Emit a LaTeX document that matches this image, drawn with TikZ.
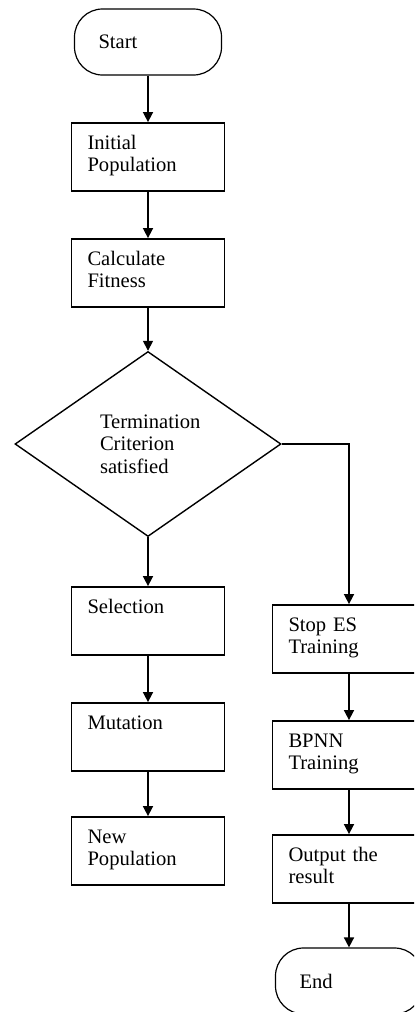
\documentclass[tikz,border=0pt]{standalone}
\usepackage{fontspec}
\setmainfont{Liberation Serif}
\usetikzlibrary{shapes.geometric,arrows.meta}

\def\leftx{148}
\def\rightx{349}

\begin{document}
\begin{tikzpicture}[x=0.5pt,y=-0.5pt,
        font=\fontsize{10.3}{11.3}\selectfont,
        procbox/.style={draw,line width=0.9pt,rectangle,inner xsep=8pt,inner ysep=3pt,
            text width=60.5pt,align=left,text height=10pt,text depth=18pt},
        termbox/.style={draw,line width=0.6pt,rounded corners=14pt,minimum width=73.5pt,
            minimum height=33pt,inner xsep=12pt,text width=49.5pt,align=left},
        decision/.style={draw,line width=0.7pt,diamond,minimum width=133pt,
            minimum height=92.5pt,inner sep=0pt,text width=48pt,align=left},
        flowarrow/.style={-{Triangle[length=5pt,width=5pt]},line width=0.8pt}]
        % frame of the picture
        \useasboundingbox (0,0) rectangle (414,1012);
        \clip (0,0) rectangle (414,1012);
        % main column
        \node[termbox] (start) at (\leftx,42) {Start};
        \node[procbox] (init) at (\leftx,157) {Initial\\Population};
        \node[procbox] (calc) at (\leftx,273) {Calculate\\Fitness};
        \node[decision] (crit) at (\leftx,444) {Termination\\Criterion\\satisfied};
        \node[procbox] (sel) at (\leftx,621) {Selection};
        \node[procbox] (mut) at (\leftx,737) {Mutation};
        \node[procbox] (newpop) at (\leftx,851) {New\\Population};
        % right column
        \node[procbox] (stop) at (\rightx,639) {Stop ES\\Training};
        \node[procbox] (bpnn) at (\rightx,755) {BPNN\\Training};
        \node[procbox] (out) at (\rightx,869) {Output the\\result};
        \node[termbox] (end) at (\rightx,981) {End};
        % arrows
        \draw[flowarrow] (start) -- (init);
        \draw[flowarrow] (init) -- (calc);
        \draw[flowarrow] (calc) -- (crit);
        \draw[flowarrow] (crit) -- (sel);
        \draw[flowarrow] (sel) -- (mut);
        \draw[flowarrow] (mut) -- (newpop);
        \draw[flowarrow] (crit.east) -| (stop.north);
        \draw[flowarrow] (stop) -- (bpnn);
        \draw[flowarrow] (bpnn) -- (out);
        \draw[flowarrow] (out) -- (end);
    \end{tikzpicture}
\end{document}
